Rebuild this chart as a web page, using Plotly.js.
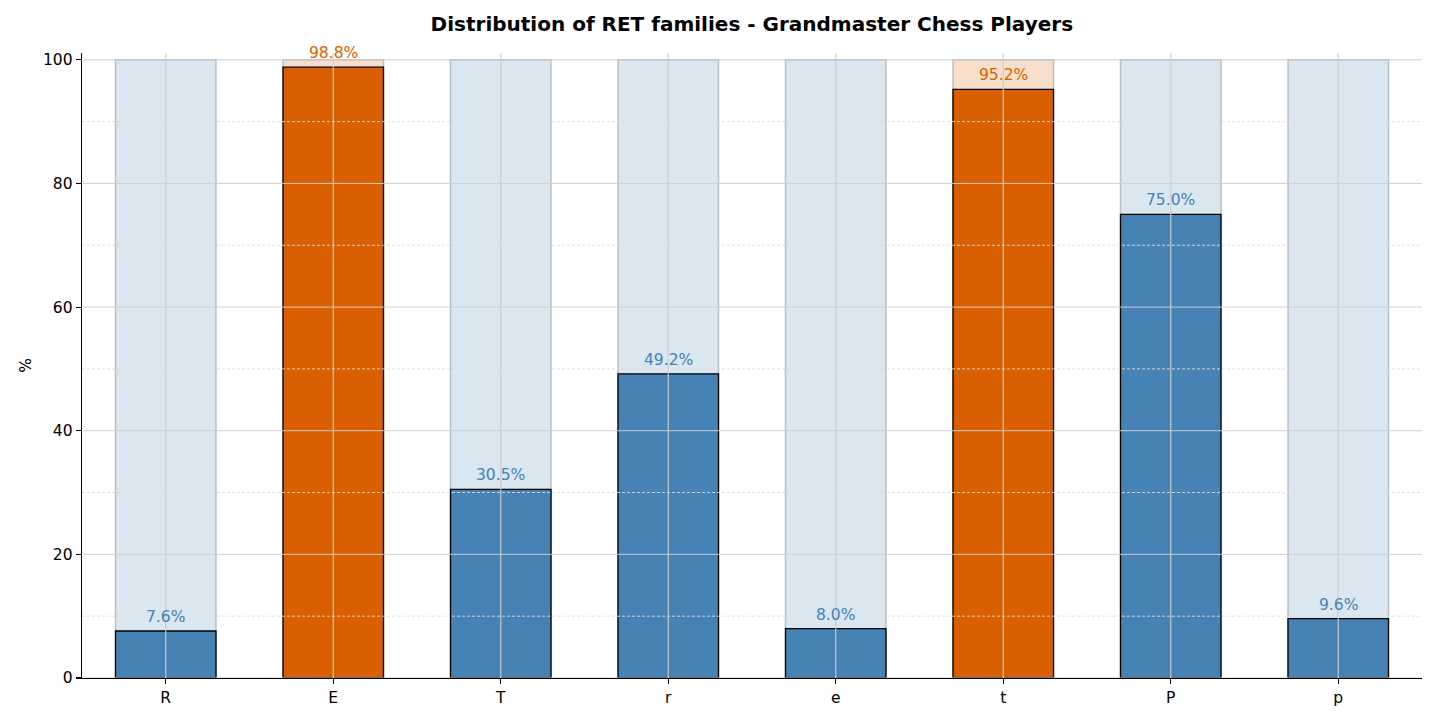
<!DOCTYPE html>
<html>
<head>
<meta charset="utf-8">
<script src="https://cdn.plot.ly/plotly-3.0.1.min.js"></script>
<style>html,body{margin:0;padding:0;background:#fff;}#chart{width:1437px;height:719px;}</style>
</head>
<body>
<div id="chart"></div>
<script>
const categories = ["R", "E", "T", "r", "e", "t", "P", "p"];
const values = [7.6, 98.8, 30.5, 49.2, 8.0, 95.2, 75.0, 9.6];
const highlighted = [false, true, false, false, false, true, false, false];
const fullValue = [100, 100, 100, 100, 100, 100, 100, 100];
const majorTicks = [0, 20, 40, 60, 80, 100];
const minorTicks = [10, 30, 50, 70, 90];

const blue = "#4682b4", orange = "#da5f00";
const blueLight = "#dae6f0", orangeLight = "#f8dfcc";
const xs = categories.map((c, i) => i);

const bgTrace = {
  type: "bar", x: xs, y: fullValue, width: 0.6,
  marker: {color: highlighted.map(h => h ? orangeLight : blueLight),
           line: {color: "rgba(170,178,186,0.8)", width: 1.5}},
  hoverinfo: "skip", showlegend: false
};
const fgTrace = {
  type: "bar", x: xs, y: values, width: 0.6,
  marker: {color: highlighted.map(h => h ? orange : blue),
           line: {color: "#000", width: 1.3}},
  showlegend: false
};

const shapes = [];
xs.forEach(x => shapes.push({type: "line", layer: "above", xref: "x", yref: "paper",
  x0: x, x1: x, y0: 0, y1: 1, line: {color: "rgba(205,205,205,0.95)", width: 1.2}}));
majorTicks.forEach(t => shapes.push({type: "line", layer: "above", xref: "paper", yref: "y",
  x0: 0, x1: 1, y0: t, y1: t, line: {color: "rgba(205,205,205,0.95)", width: 1}}));
minorTicks.forEach(t => shapes.push({type: "line", layer: "above", xref: "paper", yref: "y",
  x0: 0, x1: 1, y0: t, y1: t, line: {color: "rgba(222,222,222,1)", width: 0.9, dash: "3px,2px"}}));

const annotations = values.map((v, i) => ({
  x: xs[i], y: v, xref: "x", yref: "y", text: v.toFixed(1) + "%",
  showarrow: false, yanchor: "bottom", yshift: 3,
  font: {family: "DejaVu Sans", size: 15.5, color: highlighted[i] ? orange : blue}
}));

const layout = {
  width: 1437, height: 719,
  margin: {l: 82, r: 15, t: 53, b: 41},
  paper_bgcolor: "#fff", plot_bgcolor: "#fff",
  barmode: "overlay", bargap: 0,
  title: {text: "<b>Distribution of RET families - Grandmaster Chess Players</b>",
          x: 0.5232, xanchor: "center", y: 0.966, yanchor: "middle",
          font: {family: "DejaVu Sans", size: 20, color: "#000"}},
  xaxis: {range: [-0.5, 7.5], tickmode: "array", tickvals: xs, ticktext: categories,
          showgrid: false, zeroline: false, showline: true, linecolor: "#000", linewidth: 1.3,
          ticks: "outside", ticklen: 5, tickcolor: "#000", tickwidth: 1.1,
          tickfont: {family: "DejaVu Sans", size: 15.5, color: "#000"}, fixedrange: true},
  yaxis: {range: [0, 101.1], tickmode: "array", tickvals: majorTicks,
          showgrid: false, zeroline: false, showline: true, linecolor: "#000", linewidth: 1.3,
          ticks: "outside", ticklen: 5, tickcolor: "#000", tickwidth: 1.1,
          tickfont: {family: "DejaVu Sans", size: 15.5, color: "#000"},
          title: {text: "%", font: {family: "DejaVu Sans", size: 15.5, color: "#000"}, standoff: 7},
          fixedrange: true},
  shapes: shapes,
  annotations: annotations
};

Plotly.newPlot("chart", [bgTrace, fgTrace], layout, {displayModeBar: false, staticPlot: true});
</script>
</body>
</html>
